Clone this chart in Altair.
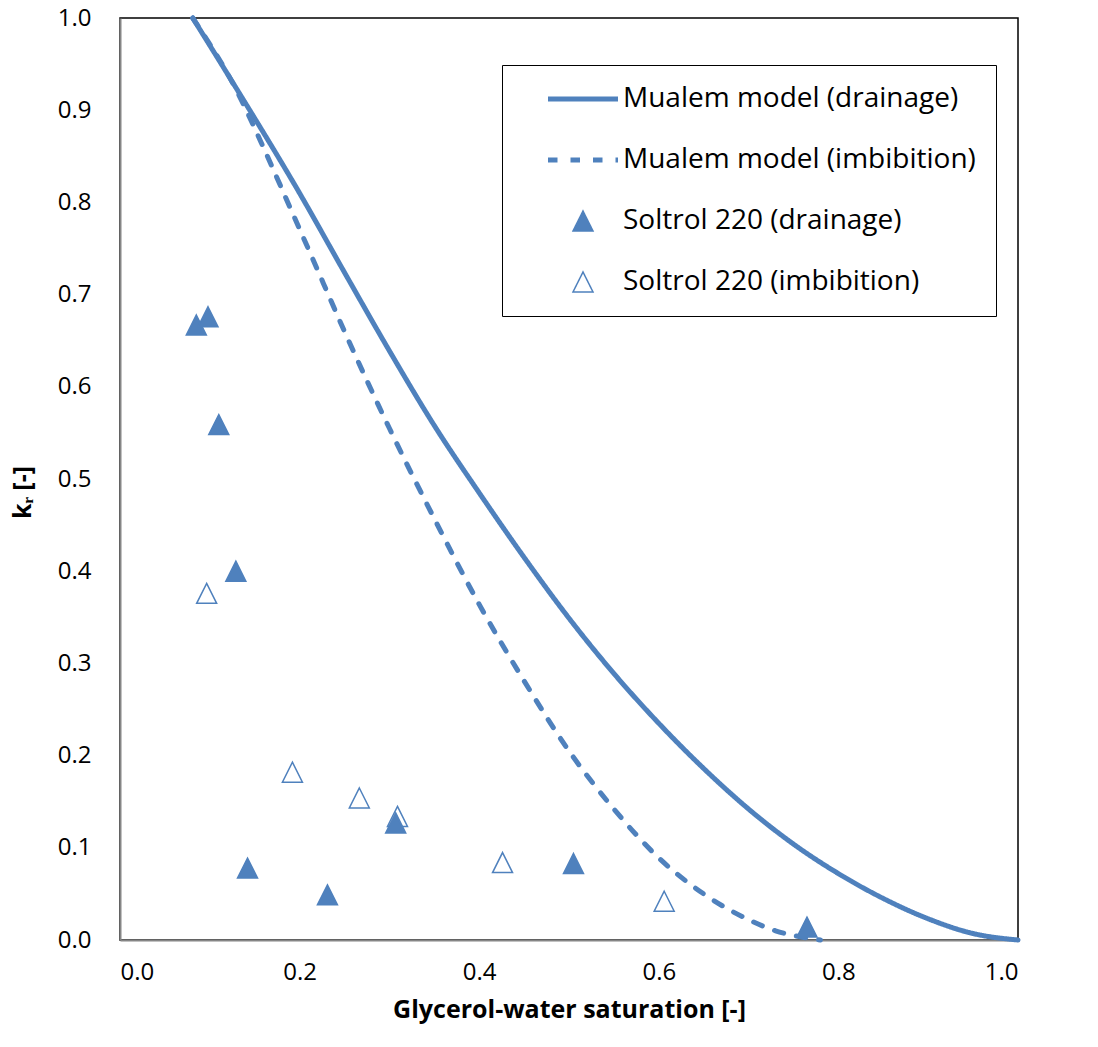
import altair as alt
import pandas as pd

BLUE = "#4F81BD"
FONT = "Open Sans"

series_names = [
    "Mualem model (drainage)",
    "Mualem model (imbibition)",
    "Soltrol 220 (drainage)",
    "Soltrol 220 (imbibition)",
]

# Mualem model curves
drain_curve_x = [0.081, 0.13, 0.20, 0.25, 0.30, 0.35, 0.40, 0.45, 0.50, 0.55,
                 0.60, 0.65, 0.70, 0.75, 0.80, 0.85, 0.90, 0.95, 1.00]
drain_curve_y = [1.000, 0.923, 0.810, 0.724, 0.639, 0.558, 0.485, 0.415, 0.349, 0.289,
                 0.235, 0.186, 0.142, 0.104, 0.072, 0.045, 0.023, 0.007, 0.000]

imb_curve_x = [0.081, 0.13, 0.16, 0.19, 0.21, 0.25, 0.30, 0.35, 0.40, 0.45,
               0.50, 0.55, 0.60, 0.65, 0.70, 0.73, 0.76, 0.78]
imb_curve_y = [1.000, 0.921, 0.859, 0.793, 0.749, 0.660, 0.555, 0.457, 0.364, 0.281,
               0.205, 0.142, 0.089, 0.050, 0.022, 0.010, 0.003, 0.000]

# Measured points
soltrol_drain_x = [0.085, 0.098, 0.110, 0.129, 0.142, 0.231, 0.307, 0.505, 0.765]
soltrol_drain_y = [0.667, 0.676, 0.559, 0.400, 0.078, 0.049, 0.127, 0.083, 0.014]
soltrol_imb_x = [0.0965, 0.192, 0.2665, 0.309, 0.426, 0.606]
soltrol_imb_y = [0.376, 0.182, 0.154, 0.134, 0.084, 0.042]

x_ticks = [0.0, 0.2, 0.4, 0.6, 0.8, 1.0]
y_ticks = [0.0, 0.1, 0.2, 0.3, 0.4, 0.5, 0.6, 0.7, 0.8, 0.9, 1.0]

lines_df = pd.concat([
    pd.DataFrame({"x": drain_curve_x, "y": drain_curve_y, "series": series_names[0],
                  "ord": range(len(drain_curve_x))}),
    pd.DataFrame({"x": imb_curve_x, "y": imb_curve_y, "series": series_names[1],
                  "ord": range(len(imb_curve_x))}),
], ignore_index=True)

pts_df = pd.concat([
    pd.DataFrame({"x": soltrol_imb_x, "y": soltrol_imb_y, "series": series_names[3]}),
    pd.DataFrame({"x": soltrol_drain_x, "y": soltrol_drain_y, "series": series_names[2]}),
], ignore_index=True)

LINE_SYM = "M-3.5,0H3.5"
TRI_SYM = "M0,-1L1,1L-1,1Z"

leg = alt.Legend(
    title=None, orient="none", legendX=382, legendY=47,
    padding=20, strokeColor="black", fillColor="white", cornerRadius=0,
    symbolSize=400, symbolOffset=47, labelOffset=26, labelLimit=600,
    labelFont=FONT, labelFontSize=28, labelColor="black",
    rowPadding=33,
)

x_enc = alt.X("x:Q", scale=alt.Scale(domain=[0, 1], nice=False, zero=False),
              axis=alt.Axis(values=x_ticks, format=".1f", title="Glycerol-water saturation [-]",
                            titleY=69, titleBaseline="middle", labelPadding=20))
y_enc = alt.Y("y:Q", scale=alt.Scale(domain=[0, 1], nice=False, zero=False),
              axis=alt.Axis(values=y_ticks, format=".1f", title="kᵣ [-]",
                            titleX=-98, titleY=474, titleAngle=270, titleBaseline="middle",
                            titleAlign="center", labelPadding=29))

dash_scale = alt.Scale(domain=series_names, range=[[1, 0], [9.5, 13], [1, 0], [1, 0]])
sw_scale = alt.Scale(type="ordinal", domain=series_names, range=[5, 5, 1.5, 1.5])
shape_scale = alt.Scale(domain=series_names, range=[LINE_SYM, LINE_SYM, TRI_SYM, TRI_SYM])
fill_scale = alt.Scale(domain=series_names, range=["transparent", "transparent", BLUE, "white"])
stroke_scale = alt.Scale(domain=series_names, range=[BLUE, BLUE, BLUE, BLUE])

lines = alt.Chart(lines_df).mark_line(strokeCap="round", interpolate="monotone").encode(
    x=x_enc, y=y_enc,
    stroke=alt.Stroke("series:N", scale=stroke_scale, legend=leg),
    strokeDash=alt.StrokeDash("series:N", scale=dash_scale, legend=leg),
    strokeWidth=alt.StrokeWidth("series:N", scale=sw_scale, legend=leg),
    order="ord:Q",
)

points = alt.Chart(pts_df).mark_point(opacity=1, size=400).encode(
    x=x_enc, y=y_enc,
    shape=alt.Shape("series:N", scale=shape_scale, legend=leg),
    fill=alt.Fill("series:N", scale=fill_scale, legend=leg),
    stroke=alt.Stroke("series:N", scale=stroke_scale, legend=leg),
    strokeWidth=alt.StrokeWidth("series:N", scale=sw_scale, legend=leg),
)

chart = alt.layer(lines, points).properties(
    width=898, height=922,
    padding={"left": 120, "top": 18, "right": 80, "bottom": 107},
    autosize=alt.AutoSizeParams(type="none"),
    background="white",
).configure_view(
    stroke="black", strokeWidth=1.5,
).configure_axis(
    grid=False, ticks=False, domainColor="#868686", domainWidth=2,
    labelFont=FONT, labelFontSize=24, labelColor="black",
    titleFont=FONT, titleFontSize=25, titleFontWeight="bold", titleColor="black",
)

chart.save("out.html", embed_options={"renderer": "svg", "actions": False})
